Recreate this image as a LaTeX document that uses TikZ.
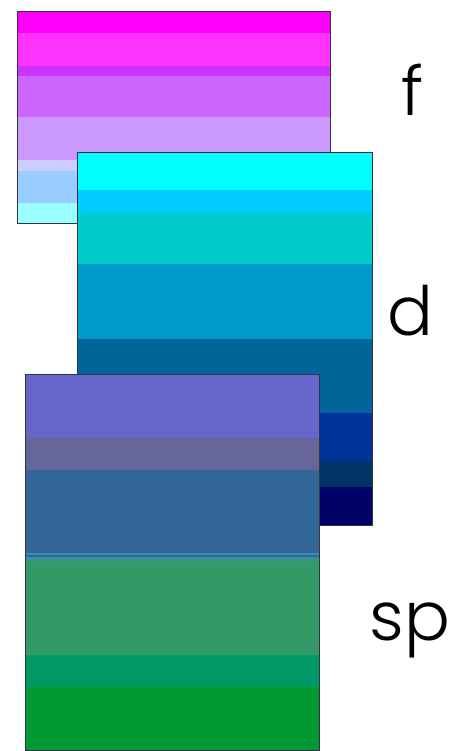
\documentclass[tikz,border=0pt]{standalone}
\usepackage{fontspec}
\setmainfont{Poppins}[UprightFont=* Light]
\usepackage{xcolor}
\definecolor{frame}{HTML}{333344}
\usepackage{tikz}
\usetikzlibrary{positioning}

\begin{document}
\begin{tikzpicture}[x=1pt, y=-1pt]
  \tikzstyle{panel}=[draw=frame, line width=0.8pt]
  \tikzstyle{tag}=[inner sep=0pt, anchor=base, font=\fontsize{68}{68}\selectfont]
  \useasboundingbox (0,0) rectangle (452,751);
  % f
  \foreach \ya/\yb/\col in {11/33/FF00FF, 33/66/FF33FF, 66/76/CC33FF,
      76/117/CC66FF, 117/160/CC99FF, 160/171/CCCCFF, 171/203/99CCFF,
      203/223/99FFFF}{
    \definecolor{band}{HTML}{\col}
    \fill[band] (17,\ya) rectangle (330,\yb);
  }
  \draw[panel] (17,11) rectangle (330,223);
  % d
  \foreach \ya/\yb/\col in {152/190/00FFFF, 190/213/00CCFF, 213/264/00CCCC,
      264/339/0099CC, 339/413/006699, 413/461/003399, 461/487/003366,
      487/525/000066}{
    \definecolor{band}{HTML}{\col}
    \fill[band] (77,\ya) rectangle (372,\yb);
  }
  \draw[panel] (77,152) rectangle (372,525);
  % sp
  \foreach \ya/\yb/\col in {374/438/6666CC, 438/470/666699, 470/553/336699,
      553/555/3C8CAA, 555/557/336699, 557/559/3C8CAA, 559/561/339988,
      561/655/339966, 655/687/009966, 687/750/009933}{
    \definecolor{band}{HTML}{\col}
    \fill[band] (25,\ya) rectangle (319,\yb);
  }
  \draw[panel] (25,374) rectangle (319,750);
  \node[tag] (labf) at (413,116) {f};
  \node[tag] (labd) at (410,335) {d};
  \node[tag] (labsp) at (410,640) {sp};
\end{tikzpicture}
\end{document}
